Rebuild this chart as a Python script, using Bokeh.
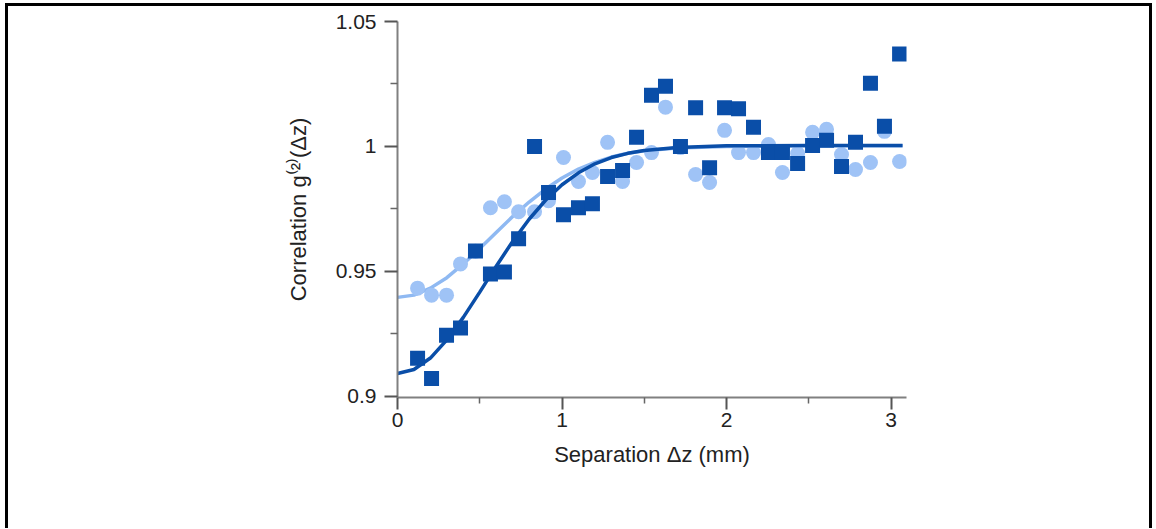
from bokeh.plotting import figure
from bokeh.models import FixedTicker
from bokeh.embed import file_html
from bokeh.resources import INLINE

# ---- data ----
sep = [0.122, 0.207, 0.298, 0.383, 0.474, 0.565, 0.650, 0.736, 0.833, 0.918,
       1.009, 1.100, 1.185, 1.277, 1.368, 1.453, 1.544, 1.629, 1.720, 1.812,
       1.897, 1.988, 2.073, 2.164, 2.255, 2.340, 2.432, 2.523, 2.608, 2.699,
       2.784, 2.875, 2.960, 3.052]
g2_dark = [0.9151, 0.9070, 0.9243, 0.9272, 0.9581, 0.9489, 0.9497, 0.9630, 0.9999, 0.9815,
           0.9726, 0.9754, 0.9770, 0.9879, 0.9903, 1.0036, 1.0205, 1.0241, 0.9999, 1.0155,
           0.9914, 1.0155, 1.0151, 1.0076, 0.9975, 0.9975, 0.9931, 1.0003, 1.0024, 0.9919,
           1.0016, 1.0253, 1.0080, 1.0370]
g2_light = [0.9432, 0.9404, 0.9404, 0.9529, 0.9580, 0.9754, 0.9778, 0.9738, 0.9738, 0.9782,
            0.9955, 0.9859, 0.9895, 1.0016, 0.9859, 0.9935, 0.9975, 1.0157, 0.9995, 0.9887,
            0.9855, 1.0064, 0.9975, 0.9975, 1.0007, 0.9895, 0.9971, 1.0056, 1.0068, 0.9967,
            0.9907, 0.9935, 1.0060, 0.9939]

fit_x = [0.0, 0.1, 0.2, 0.3, 0.4, 0.5, 0.6, 0.7, 0.8, 0.9, 1.0, 1.1, 1.2, 1.3, 1.4,
         1.5, 1.7, 2.0, 2.5, 3.07]
fit_dark = [0.9090, 0.9106, 0.9152, 0.9225, 0.9315, 0.9416, 0.9520, 0.9619, 0.9708, 0.9784,
            0.9846, 0.9894, 0.9930, 0.9955, 0.9972, 0.9983, 0.9995, 1.0002, 1.0003, 1.0003]
fit_light = [0.9395, 0.9404, 0.9432, 0.9474, 0.9529, 0.9591, 0.9655, 0.9719, 0.9777, 0.9829,
             0.9873, 0.9909, 0.9936, 0.9957, 0.9972, 0.9982, 0.9993, 0.9999, 1.0002, 1.0002]

x_ticks = [0, 1, 2, 3]
x_minor = [0.5, 1.5, 2.5]
y_ticks = [0.9, 0.95, 1.0, 1.05]
y_minor = [0.925, 0.975, 1.025]
y_tick_labels = ["0.9", "0.95", "1", "1.05"]

DARK = "#0a4ea8"
LIGHT = "#9fc3f6"
LIGHT_LINE = "#8fb9f2"
FONT = "Liberation Sans"

p = figure(frame_width=509, frame_height=376,
           x_range=(0, 3.094), y_range=(0.8994, 1.05),
           output_backend="svg", toolbar_location=None,
           min_border_left=389, min_border_right=243,
           min_border_top=15, min_border_bottom=131,
           styles={"border-top": "3px solid black",
                   "border-left": "3px solid black",
                   "border-right": "3px solid black",
                   "margin-top": "3px", "margin-left": "5px"})

p.xgrid.visible = False
p.ygrid.visible = False
p.outline_line_color = None

p.line(fit_x, fit_light, line_color=LIGHT_LINE, line_width=3.5)
p.scatter(sep, g2_light, marker="circle", size=15, fill_color=LIGHT, line_color=None)
p.line(fit_x, fit_dark, line_color=DARK, line_width=3.5)
p.scatter(sep, g2_dark, marker="square", size=15, fill_color=DARK, line_color=None)

p.xaxis.ticker = FixedTicker(ticks=x_ticks, minor_ticks=x_minor)
p.yaxis.ticker = FixedTicker(ticks=y_ticks, minor_ticks=y_minor)
p.yaxis.major_label_overrides = {t: l for t, l in zip(y_ticks, y_tick_labels)}
p.xaxis.major_label_overrides = {t: str(t) for t in x_ticks}

p.xaxis.axis_label = "Separation Δz (mm)"
p.yaxis.axis_label = "Correlation g⁽²⁾(Δz)"

for ax in (p.xaxis, p.yaxis):
    ax.axis_line_color = "#808080"
    ax.axis_line_width = 2
    ax.major_tick_line_color = "#555555"
    ax.minor_tick_line_color = "#666666"
    ax.major_tick_line_width = 2
    ax.minor_tick_line_width = 1.5
    ax.major_tick_in = 0
    ax.minor_tick_in = 0
    ax.major_label_text_font = FONT
    ax.major_label_text_font_size = "21px"
    ax.major_label_text_color = "#222222"
    ax.axis_label_text_font = FONT
    ax.axis_label_text_font_size = "22px"
    ax.axis_label_text_font_style = "normal"
    ax.axis_label_text_color = "#222222"

p.xaxis.major_tick_out = 12
p.xaxis.minor_tick_out = 6
p.yaxis.major_tick_out = 13
p.yaxis.minor_tick_out = 7
p.xaxis.major_label_standoff = 3
p.yaxis.major_label_standoff = 8
p.xaxis.axis_label_standoff = 12
p.yaxis.axis_label_standoff = 22

open("out.html", "w").write(file_html(p, INLINE))
